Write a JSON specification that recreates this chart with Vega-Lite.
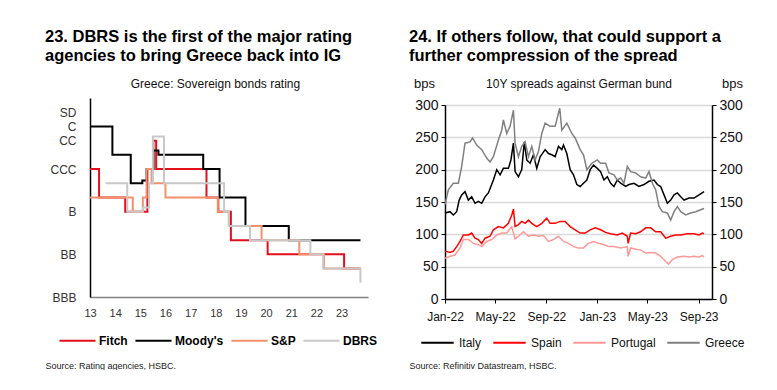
{
  "$schema": "https://vega.github.io/schema/vega-lite/v6.json",
  "padding": {"left": 45, "top": 28, "right": 0, "bottom": 0},
  "autosize": {"type": "pad"},
  "background": "white",
  "config": {
    "font": "Liberation Sans",
    "view": {"stroke": null},
    "title": {"font": "Liberation Sans", "color": "#000000"},
    "axis": {"labelFont": "Liberation Sans", "titleFont": "Liberation Sans"},
    "legend": {"labelFont": "Liberation Sans"}
  },
  "spacing": 31,
  "resolve": {"scale": {"color": "independent"}, "legend": {"color": "independent"}},
  "hconcat": [
    {
      "width": 278,
      "height": 199,
      "title": {"text": ["23. DBRS is the first of the major rating", "agencies to bring Greece back into IG"], "anchor": "start", "fontSize": 16.5, "fontWeight": "bold", "lineHeight": 19, "offset": 13},
      "data": {"values": [
        {"a": "Fitch", "t": 13.0, "v": 9}, {"a": "Fitch", "t": 13.36, "v": 7}, {"a": "Fitch", "t": 14.4, "v": 6}, {"a": "Fitch", "t": 15.28, "v": 9}, {"a": "Fitch", "t": 15.52, "v": 11}, {"a": "Fitch", "t": 15.63, "v": 9}, {"a": "Fitch", "t": 17.63, "v": 7}, {"a": "Fitch", "t": 18.1, "v": 6}, {"a": "Fitch", "t": 18.6, "v": 4}, {"a": "Fitch", "t": 20.06, "v": 3}, {"a": "Fitch", "t": 23.1, "v": 2}, {"a": "Fitch", "t": 23.75, "v": 2},
        {"a": "Moody's", "t": 13.0, "v": 12}, {"a": "Moody's", "t": 13.89, "v": 10}, {"a": "Moody's", "t": 14.62, "v": 8}, {"a": "Moody's", "t": 15.08, "v": 8.2}, {"a": "Moody's", "t": 15.25, "v": 9}, {"a": "Moody's", "t": 15.52, "v": 10.3}, {"a": "Moody's", "t": 15.72, "v": 10}, {"a": "Moody's", "t": 17.5, "v": 9}, {"a": "Moody's", "t": 18.15, "v": 7}, {"a": "Moody's", "t": 19.18, "v": 5}, {"a": "Moody's", "t": 20.9, "v": 4}, {"a": "Moody's", "t": 23.75, "v": 4},
        {"a": "S&P", "t": 13.0, "v": 7}, {"a": "S&P", "t": 14.7, "v": 6}, {"a": "S&P", "t": 15.1, "v": 7}, {"a": "S&P", "t": 15.25, "v": 9}, {"a": "S&P", "t": 15.45, "v": 8}, {"a": "S&P", "t": 16.0, "v": 7}, {"a": "S&P", "t": 18.08, "v": 6}, {"a": "S&P", "t": 18.52, "v": 5}, {"a": "S&P", "t": 19.82, "v": 4}, {"a": "S&P", "t": 21.32, "v": 3}, {"a": "S&P", "t": 22.3, "v": 2}, {"a": "S&P", "t": 23.75, "v": 2},
        {"a": "DBRS", "t": 13.62, "v": 8}, {"a": "DBRS", "t": 14.48, "v": 6}, {"a": "DBRS", "t": 15.1, "v": 6.3}, {"a": "DBRS", "t": 15.35, "v": 8}, {"a": "DBRS", "t": 15.5, "v": 11.3}, {"a": "DBRS", "t": 15.94, "v": 8}, {"a": "DBRS", "t": 18.33, "v": 6}, {"a": "DBRS", "t": 18.52, "v": 5}, {"a": "DBRS", "t": 19.36, "v": 4}, {"a": "DBRS", "t": 21.76, "v": 3}, {"a": "DBRS", "t": 22.27, "v": 2}, {"a": "DBRS", "t": 23.75, "v": 1}
      ]},
      "mark": {"type": "line", "interpolate": "step-after", "strokeWidth": 2},
      "encoding": {
        "x": {"field": "t", "type": "quantitative", "scale": {"domain": [13, 24.05], "nice": false, "zero": false},
          "axis": {"title": "Source: Rating agencies, HSBC.", "titleX": -45, "titleY": 71, "titleAlign": "left", "titleBaseline": "alphabetic", "titleFontSize": 9, "titleFontWeight": "normal", "titleColor": "#222222",
            "values": [13, 14, 15, 16, 17, 18, 19, 20, 21, 22, 23], "format": "d", "ticks": false, "grid": false, "domainColor": "#808080", "domainWidth": 1.5, "labelPadding": 10, "labelFontSize": 11, "labelColor": "#333333", "labelFlush": false}},
        "y": {"field": "v", "type": "quantitative", "scale": {"domain": [0, 14], "nice": false, "zero": false},
          "axis": {"title": "Greece: Sovereign bonds rating", "titleAngle": 0, "titleX": 125, "titleY": -11, "titleAlign": "center", "titleBaseline": "alphabetic", "titleFontSize": 12, "titleFontWeight": "normal", "titleColor": "#111111",
            "values": [0, 3, 6, 9, 11, 12, 13], "labelExpr": "datum.value == 0 ? 'BBB' : datum.value == 3 ? 'BB' : datum.value == 6 ? 'B' : datum.value == 9 ? 'CCC' : datum.value == 11 ? 'CC' : datum.value == 12 ? 'C' : 'SD'", "ticks": false, "grid": false, "domainColor": "#000000", "domainWidth": 1.5, "labelPadding": 14, "labelFontSize": 12, "labelColor": "#333333", "labelFlush": false}},
        "color": {"field": "a", "type": "nominal", "scale": {"domain": ["Fitch", "Moody's", "S&P", "DBRS"], "range": ["#e3101b", "#000000", "#f4916b", "#c8c8c8"]},
          "legend": {"title": null, "orient": "none", "legendX": -32, "legendY": 223, "direction": "horizontal", "symbolType": "stroke", "symbolSize": 1300, "symbolStrokeWidth": 2, "labelFontSize": 12, "labelFontWeight": "bold", "labelColor": "#000000", "labelOffset": 2, "columnPadding": 3}}
      }
    },
    {
      "width": 267,
      "height": 201,
      "title": {"text": ["24. If others follow, that could support a", "further compression of the spread"], "anchor": "start", "fontSize": 16.5, "fontWeight": "bold", "lineHeight": 19, "offset": 13},
      "data": {"values": [
        {"c": "Italy", "d": "2022-01-01", "bps": 133}, {"c": "Italy", "d": "2022-01-13", "bps": 135}, {"c": "Italy", "d": "2022-01-21", "bps": 130}, {"c": "Italy", "d": "2022-01-29", "bps": 135}, {"c": "Italy", "d": "2022-02-04", "bps": 153}, {"c": "Italy", "d": "2022-02-10", "bps": 161}, {"c": "Italy", "d": "2022-02-18", "bps": 166}, {"c": "Italy", "d": "2022-02-26", "bps": 153}, {"c": "Italy", "d": "2022-03-06", "bps": 158}, {"c": "Italy", "d": "2022-03-14", "bps": 148}, {"c": "Italy", "d": "2022-03-22", "bps": 151}, {"c": "Italy", "d": "2022-03-30", "bps": 148}, {"c": "Italy", "d": "2022-04-07", "bps": 158}, {"c": "Italy", "d": "2022-04-15", "bps": 164}, {"c": "Italy", "d": "2022-04-27", "bps": 184}, {"c": "Italy", "d": "2022-05-05", "bps": 200}, {"c": "Italy", "d": "2022-05-13", "bps": 192}, {"c": "Italy", "d": "2022-05-21", "bps": 202}, {"c": "Italy", "d": "2022-06-02", "bps": 202}, {"c": "Italy", "d": "2022-06-08", "bps": 215}, {"c": "Italy", "d": "2022-06-14", "bps": 241}, {"c": "Italy", "d": "2022-06-18", "bps": 197}, {"c": "Italy", "d": "2022-06-26", "bps": 189}, {"c": "Italy", "d": "2022-07-04", "bps": 200}, {"c": "Italy", "d": "2022-07-10", "bps": 243}, {"c": "Italy", "d": "2022-07-16", "bps": 215}, {"c": "Italy", "d": "2022-07-24", "bps": 210}, {"c": "Italy", "d": "2022-08-01", "bps": 223}, {"c": "Italy", "d": "2022-08-09", "bps": 202}, {"c": "Italy", "d": "2022-08-17", "bps": 220}, {"c": "Italy", "d": "2022-08-29", "bps": 231}, {"c": "Italy", "d": "2022-09-06", "bps": 225}, {"c": "Italy", "d": "2022-09-14", "bps": 223}, {"c": "Italy", "d": "2022-09-22", "bps": 220}, {"c": "Italy", "d": "2022-09-30", "bps": 236}, {"c": "Italy", "d": "2022-10-08", "bps": 231}, {"c": "Italy", "d": "2022-10-12", "bps": 238}, {"c": "Italy", "d": "2022-10-20", "bps": 225}, {"c": "Italy", "d": "2022-10-28", "bps": 200}, {"c": "Italy", "d": "2022-11-05", "bps": 192}, {"c": "Italy", "d": "2022-11-13", "bps": 177}, {"c": "Italy", "d": "2022-11-21", "bps": 174}, {"c": "Italy", "d": "2022-11-29", "bps": 179}, {"c": "Italy", "d": "2022-12-07", "bps": 184}, {"c": "Italy", "d": "2022-12-15", "bps": 200}, {"c": "Italy", "d": "2022-12-23", "bps": 207}, {"c": "Italy", "d": "2023-01-01", "bps": 202}, {"c": "Italy", "d": "2023-01-09", "bps": 197}, {"c": "Italy", "d": "2023-01-17", "bps": 184}, {"c": "Italy", "d": "2023-01-25", "bps": 189}, {"c": "Italy", "d": "2023-02-02", "bps": 179}, {"c": "Italy", "d": "2023-02-10", "bps": 174}, {"c": "Italy", "d": "2023-02-18", "bps": 184}, {"c": "Italy", "d": "2023-02-26", "bps": 179}, {"c": "Italy", "d": "2023-03-10", "bps": 174}, {"c": "Italy", "d": "2023-03-18", "bps": 177}, {"c": "Italy", "d": "2023-03-30", "bps": 179}, {"c": "Italy", "d": "2023-04-11", "bps": 174}, {"c": "Italy", "d": "2023-04-23", "bps": 177}, {"c": "Italy", "d": "2023-05-05", "bps": 182}, {"c": "Italy", "d": "2023-05-17", "bps": 184}, {"c": "Italy", "d": "2023-05-25", "bps": 177}, {"c": "Italy", "d": "2023-06-02", "bps": 174}, {"c": "Italy", "d": "2023-06-10", "bps": 161}, {"c": "Italy", "d": "2023-06-18", "bps": 148}, {"c": "Italy", "d": "2023-06-26", "bps": 153}, {"c": "Italy", "d": "2023-07-04", "bps": 161}, {"c": "Italy", "d": "2023-07-12", "bps": 164}, {"c": "Italy", "d": "2023-07-20", "bps": 158}, {"c": "Italy", "d": "2023-07-28", "bps": 153}, {"c": "Italy", "d": "2023-08-09", "bps": 156}, {"c": "Italy", "d": "2023-08-21", "bps": 156}, {"c": "Italy", "d": "2023-09-02", "bps": 161}, {"c": "Italy", "d": "2023-09-14", "bps": 166},
        {"c": "Spain", "d": "2022-01-01", "bps": 74}, {"c": "Spain", "d": "2022-01-13", "bps": 72}, {"c": "Spain", "d": "2022-01-21", "bps": 74}, {"c": "Spain", "d": "2022-01-29", "bps": 81}, {"c": "Spain", "d": "2022-02-06", "bps": 89}, {"c": "Spain", "d": "2022-02-14", "bps": 99}, {"c": "Spain", "d": "2022-02-26", "bps": 99}, {"c": "Spain", "d": "2022-03-06", "bps": 102}, {"c": "Spain", "d": "2022-03-14", "bps": 94}, {"c": "Spain", "d": "2022-03-22", "bps": 92}, {"c": "Spain", "d": "2022-03-30", "bps": 86}, {"c": "Spain", "d": "2022-04-07", "bps": 94}, {"c": "Spain", "d": "2022-04-19", "bps": 97}, {"c": "Spain", "d": "2022-04-27", "bps": 107}, {"c": "Spain", "d": "2022-05-09", "bps": 112}, {"c": "Spain", "d": "2022-05-21", "bps": 110}, {"c": "Spain", "d": "2022-06-02", "bps": 117}, {"c": "Spain", "d": "2022-06-10", "bps": 130}, {"c": "Spain", "d": "2022-06-14", "bps": 139}, {"c": "Spain", "d": "2022-06-18", "bps": 112}, {"c": "Spain", "d": "2022-06-26", "bps": 115}, {"c": "Spain", "d": "2022-07-04", "bps": 120}, {"c": "Spain", "d": "2022-07-12", "bps": 117}, {"c": "Spain", "d": "2022-07-20", "bps": 122}, {"c": "Spain", "d": "2022-07-28", "bps": 117}, {"c": "Spain", "d": "2022-08-09", "bps": 112}, {"c": "Spain", "d": "2022-08-21", "bps": 117}, {"c": "Spain", "d": "2022-09-02", "bps": 125}, {"c": "Spain", "d": "2022-09-10", "bps": 117}, {"c": "Spain", "d": "2022-09-22", "bps": 117}, {"c": "Spain", "d": "2022-10-04", "bps": 120}, {"c": "Spain", "d": "2022-10-16", "bps": 120}, {"c": "Spain", "d": "2022-10-28", "bps": 112}, {"c": "Spain", "d": "2022-11-09", "bps": 107}, {"c": "Spain", "d": "2022-11-21", "bps": 102}, {"c": "Spain", "d": "2022-12-03", "bps": 102}, {"c": "Spain", "d": "2022-12-15", "bps": 107}, {"c": "Spain", "d": "2022-12-27", "bps": 110}, {"c": "Spain", "d": "2023-01-09", "bps": 107}, {"c": "Spain", "d": "2023-01-21", "bps": 103}, {"c": "Spain", "d": "2023-02-02", "bps": 101}, {"c": "Spain", "d": "2023-02-18", "bps": 99}, {"c": "Spain", "d": "2023-03-02", "bps": 102}, {"c": "Spain", "d": "2023-03-14", "bps": 97}, {"c": "Spain", "d": "2023-03-16", "bps": 86}, {"c": "Spain", "d": "2023-03-22", "bps": 102}, {"c": "Spain", "d": "2023-04-03", "bps": 101}, {"c": "Spain", "d": "2023-04-15", "bps": 104}, {"c": "Spain", "d": "2023-04-27", "bps": 110}, {"c": "Spain", "d": "2023-05-09", "bps": 110}, {"c": "Spain", "d": "2023-05-21", "bps": 104}, {"c": "Spain", "d": "2023-06-02", "bps": 104}, {"c": "Spain", "d": "2023-06-14", "bps": 94}, {"c": "Spain", "d": "2023-06-26", "bps": 97}, {"c": "Spain", "d": "2023-07-08", "bps": 99}, {"c": "Spain", "d": "2023-07-20", "bps": 99}, {"c": "Spain", "d": "2023-08-05", "bps": 101}, {"c": "Spain", "d": "2023-08-21", "bps": 101}, {"c": "Spain", "d": "2023-09-02", "bps": 99}, {"c": "Spain", "d": "2023-09-10", "bps": 102}, {"c": "Spain", "d": "2023-09-14", "bps": 101},
        {"c": "Portugal", "d": "2022-01-01", "bps": 63}, {"c": "Portugal", "d": "2022-01-13", "bps": 66}, {"c": "Portugal", "d": "2022-01-25", "bps": 68}, {"c": "Portugal", "d": "2022-02-06", "bps": 79}, {"c": "Portugal", "d": "2022-02-14", "bps": 92}, {"c": "Portugal", "d": "2022-02-26", "bps": 92}, {"c": "Portugal", "d": "2022-03-10", "bps": 86}, {"c": "Portugal", "d": "2022-03-22", "bps": 84}, {"c": "Portugal", "d": "2022-03-30", "bps": 81}, {"c": "Portugal", "d": "2022-04-11", "bps": 89}, {"c": "Portugal", "d": "2022-04-23", "bps": 92}, {"c": "Portugal", "d": "2022-05-05", "bps": 99}, {"c": "Portugal", "d": "2022-05-17", "bps": 102}, {"c": "Portugal", "d": "2022-05-29", "bps": 102}, {"c": "Portugal", "d": "2022-06-10", "bps": 112}, {"c": "Portugal", "d": "2022-06-18", "bps": 93}, {"c": "Portugal", "d": "2022-06-26", "bps": 97}, {"c": "Portugal", "d": "2022-07-08", "bps": 104}, {"c": "Portugal", "d": "2022-07-20", "bps": 97}, {"c": "Portugal", "d": "2022-08-01", "bps": 99}, {"c": "Portugal", "d": "2022-08-13", "bps": 97}, {"c": "Portugal", "d": "2022-08-25", "bps": 98}, {"c": "Portugal", "d": "2022-09-06", "bps": 89}, {"c": "Portugal", "d": "2022-09-18", "bps": 92}, {"c": "Portugal", "d": "2022-09-30", "bps": 97}, {"c": "Portugal", "d": "2022-10-12", "bps": 89}, {"c": "Portugal", "d": "2022-10-24", "bps": 86}, {"c": "Portugal", "d": "2022-11-05", "bps": 81}, {"c": "Portugal", "d": "2022-11-17", "bps": 79}, {"c": "Portugal", "d": "2022-11-29", "bps": 79}, {"c": "Portugal", "d": "2022-12-11", "bps": 86}, {"c": "Portugal", "d": "2022-12-23", "bps": 89}, {"c": "Portugal", "d": "2023-01-05", "bps": 86}, {"c": "Portugal", "d": "2023-01-17", "bps": 84}, {"c": "Portugal", "d": "2023-01-29", "bps": 81}, {"c": "Portugal", "d": "2023-02-10", "bps": 81}, {"c": "Portugal", "d": "2023-02-26", "bps": 79}, {"c": "Portugal", "d": "2023-03-14", "bps": 81}, {"c": "Portugal", "d": "2023-03-16", "bps": 66}, {"c": "Portugal", "d": "2023-03-22", "bps": 79}, {"c": "Portugal", "d": "2023-04-03", "bps": 77}, {"c": "Portugal", "d": "2023-04-15", "bps": 76}, {"c": "Portugal", "d": "2023-04-27", "bps": 71}, {"c": "Portugal", "d": "2023-05-09", "bps": 72}, {"c": "Portugal", "d": "2023-05-21", "bps": 71}, {"c": "Portugal", "d": "2023-06-02", "bps": 66}, {"c": "Portugal", "d": "2023-06-14", "bps": 58}, {"c": "Portugal", "d": "2023-06-21", "bps": 54}, {"c": "Portugal", "d": "2023-06-30", "bps": 61}, {"c": "Portugal", "d": "2023-07-12", "bps": 65}, {"c": "Portugal", "d": "2023-07-28", "bps": 66}, {"c": "Portugal", "d": "2023-08-09", "bps": 65}, {"c": "Portugal", "d": "2023-08-21", "bps": 66}, {"c": "Portugal", "d": "2023-09-02", "bps": 65}, {"c": "Portugal", "d": "2023-09-10", "bps": 67}, {"c": "Portugal", "d": "2023-09-14", "bps": 65},
        {"c": "Greece", "d": "2022-01-01", "bps": 146}, {"c": "Greece", "d": "2022-01-09", "bps": 169}, {"c": "Greece", "d": "2022-01-21", "bps": 179}, {"c": "Greece", "d": "2022-02-02", "bps": 179}, {"c": "Greece", "d": "2022-02-10", "bps": 205}, {"c": "Greece", "d": "2022-02-18", "bps": 241}, {"c": "Greece", "d": "2022-03-02", "bps": 243}, {"c": "Greece", "d": "2022-03-08", "bps": 249}, {"c": "Greece", "d": "2022-03-18", "bps": 238}, {"c": "Greece", "d": "2022-03-30", "bps": 231}, {"c": "Greece", "d": "2022-04-11", "bps": 218}, {"c": "Greece", "d": "2022-04-19", "bps": 212}, {"c": "Greece", "d": "2022-04-27", "bps": 220}, {"c": "Greece", "d": "2022-05-09", "bps": 246}, {"c": "Greece", "d": "2022-05-17", "bps": 261}, {"c": "Greece", "d": "2022-05-21", "bps": 277}, {"c": "Greece", "d": "2022-05-29", "bps": 256}, {"c": "Greece", "d": "2022-06-06", "bps": 267}, {"c": "Greece", "d": "2022-06-14", "bps": 292}, {"c": "Greece", "d": "2022-06-18", "bps": 241}, {"c": "Greece", "d": "2022-06-26", "bps": 220}, {"c": "Greece", "d": "2022-07-04", "bps": 236}, {"c": "Greece", "d": "2022-07-12", "bps": 243}, {"c": "Greece", "d": "2022-07-20", "bps": 220}, {"c": "Greece", "d": "2022-07-28", "bps": 236}, {"c": "Greece", "d": "2022-08-05", "bps": 215}, {"c": "Greece", "d": "2022-08-13", "bps": 228}, {"c": "Greece", "d": "2022-08-21", "bps": 256}, {"c": "Greece", "d": "2022-08-29", "bps": 272}, {"c": "Greece", "d": "2022-09-10", "bps": 267}, {"c": "Greece", "d": "2022-09-22", "bps": 267}, {"c": "Greece", "d": "2022-10-03", "bps": 295}, {"c": "Greece", "d": "2022-10-08", "bps": 261}, {"c": "Greece", "d": "2022-10-20", "bps": 272}, {"c": "Greece", "d": "2022-11-01", "bps": 256}, {"c": "Greece", "d": "2022-11-09", "bps": 249}, {"c": "Greece", "d": "2022-11-21", "bps": 231}, {"c": "Greece", "d": "2022-11-29", "bps": 223}, {"c": "Greece", "d": "2022-12-07", "bps": 200}, {"c": "Greece", "d": "2022-12-19", "bps": 210}, {"c": "Greece", "d": "2023-01-01", "bps": 215}, {"c": "Greece", "d": "2023-01-09", "bps": 210}, {"c": "Greece", "d": "2023-01-21", "bps": 210}, {"c": "Greece", "d": "2023-01-29", "bps": 195}, {"c": "Greece", "d": "2023-02-10", "bps": 192}, {"c": "Greece", "d": "2023-02-18", "bps": 184}, {"c": "Greece", "d": "2023-02-26", "bps": 187}, {"c": "Greece", "d": "2023-03-06", "bps": 179}, {"c": "Greece", "d": "2023-03-14", "bps": 205}, {"c": "Greece", "d": "2023-03-22", "bps": 197}, {"c": "Greece", "d": "2023-04-03", "bps": 195}, {"c": "Greece", "d": "2023-04-15", "bps": 189}, {"c": "Greece", "d": "2023-04-27", "bps": 187}, {"c": "Greece", "d": "2023-05-05", "bps": 197}, {"c": "Greece", "d": "2023-05-13", "bps": 179}, {"c": "Greece", "d": "2023-05-21", "bps": 169}, {"c": "Greece", "d": "2023-05-29", "bps": 143}, {"c": "Greece", "d": "2023-06-06", "bps": 135}, {"c": "Greece", "d": "2023-06-18", "bps": 133}, {"c": "Greece", "d": "2023-06-26", "bps": 122}, {"c": "Greece", "d": "2023-07-04", "bps": 135}, {"c": "Greece", "d": "2023-07-12", "bps": 143}, {"c": "Greece", "d": "2023-07-20", "bps": 135}, {"c": "Greece", "d": "2023-08-01", "bps": 130}, {"c": "Greece", "d": "2023-08-13", "bps": 133}, {"c": "Greece", "d": "2023-08-25", "bps": 135}, {"c": "Greece", "d": "2023-09-06", "bps": 138}, {"c": "Greece", "d": "2023-09-14", "bps": 140}
      ]},
      "layer": [
        {
          "mark": {"type": "line", "strokeWidth": 1.5},
          "encoding": {
            "x": {"field": "d", "type": "temporal", "scale": {"type": "utc", "domain": [{"year": 2022, "month": 1, "date": 1, "utc": true}, {"year": 2023, "month": 10, "date": 3, "utc": true}]},
              "axis": {"title": "Source: Refinitiv Datastream, HSBC.", "titleX": -36, "titleY": 69, "titleAlign": "left", "titleBaseline": "alphabetic", "titleFontSize": 9, "titleFontWeight": "normal", "titleColor": "#222222",
                "values": [{"year": 2022, "month": 1, "date": 1, "utc": true}, {"year": 2022, "month": 5, "date": 1, "utc": true}, {"year": 2022, "month": 9, "date": 1, "utc": true}, {"year": 2023, "month": 1, "date": 1, "utc": true}, {"year": 2023, "month": 5, "date": 1, "utc": true}, {"year": 2023, "month": 9, "date": 1, "utc": true}], "labelExpr": "utcFormat(datum.value, '%b-%y')", "grid": false, "ticks": true, "tickSize": 4, "tickColor": "#000000", "domainColor": "#000000", "domainWidth": 1.5, "labelFontSize": 12, "labelColor": "#111111", "labelPadding": 8, "labelFlush": false}},
            "y": {"field": "bps", "type": "quantitative", "scale": {"domain": [0, 300], "nice": false, "range": [201, 7]},
              "axis": {"title": "bps", "titleAngle": 0, "titleX": -21, "titleY": -11, "titleAlign": "center", "titleBaseline": "alphabetic", "titleFontSize": 13, "titleFontWeight": "normal", "titleColor": "#111111", "values": [0, 50, 100, 150, 200, 250, 300], "grid": true, "gridColor": "#d9d9d9", "gridWidth": 1.5, "ticks": true, "tickSize": 4, "tickColor": "#000000", "domainColor": "#000000", "domainWidth": 1.5, "labelFontSize": 14, "labelColor": "#111111", "labelPadding": 3}},
            "color": {"field": "c", "type": "nominal", "scale": {"domain": ["Italy", "Spain", "Portugal", "Greece"], "range": ["#000000", "#ff0000", "#ff9999", "#808080"]},
              "legend": {"title": null, "orient": "none", "legendX": -25, "legendY": 227, "direction": "horizontal", "symbolType": "stroke", "symbolSize": 1050, "symbolStrokeWidth": 2, "labelFontSize": 12, "labelColor": "#111111", "labelOffset": 4, "columnPadding": 7}}
          }
        },
        {
          "mark": {"type": "line", "opacity": 0},
          "encoding": {
            "x": {"field": "d", "type": "temporal", "scale": {"type": "utc", "domain": [{"year": 2022, "month": 1, "date": 1, "utc": true}, {"year": 2023, "month": 10, "date": 3, "utc": true}]},
              "axis": {"orient": "top", "title": "10Y spreads against German bund", "titleY": -11, "titleBaseline": "alphabetic", "titleFontSize": 12, "titleFontWeight": "normal", "titleColor": "#111111", "labels": false, "ticks": false, "domain": false, "grid": false}},
            "y": {"field": "bps", "type": "quantitative", "scale": {"domain": [0, 300], "nice": false, "range": [201, 7]},
              "axis": {"orient": "right", "title": "bps", "titleAngle": 0, "titleX": 20, "titleY": -11, "titleAlign": "center", "titleBaseline": "alphabetic", "titleFontSize": 13, "titleFontWeight": "normal", "titleColor": "#111111", "values": [0, 50, 100, 150, 200, 250, 300], "grid": false, "ticks": true, "tickSize": 4, "tickColor": "#000000", "domainColor": "#000000", "domainWidth": 1.5, "labelFontSize": 14, "labelColor": "#111111", "labelPadding": 3}},
            "detail": {"field": "c", "type": "nominal"}
          }
        }
      ],
      "resolve": {"scale": {"y": "independent"}, "axis": {"x": "independent"}}
    }
  ]
}
